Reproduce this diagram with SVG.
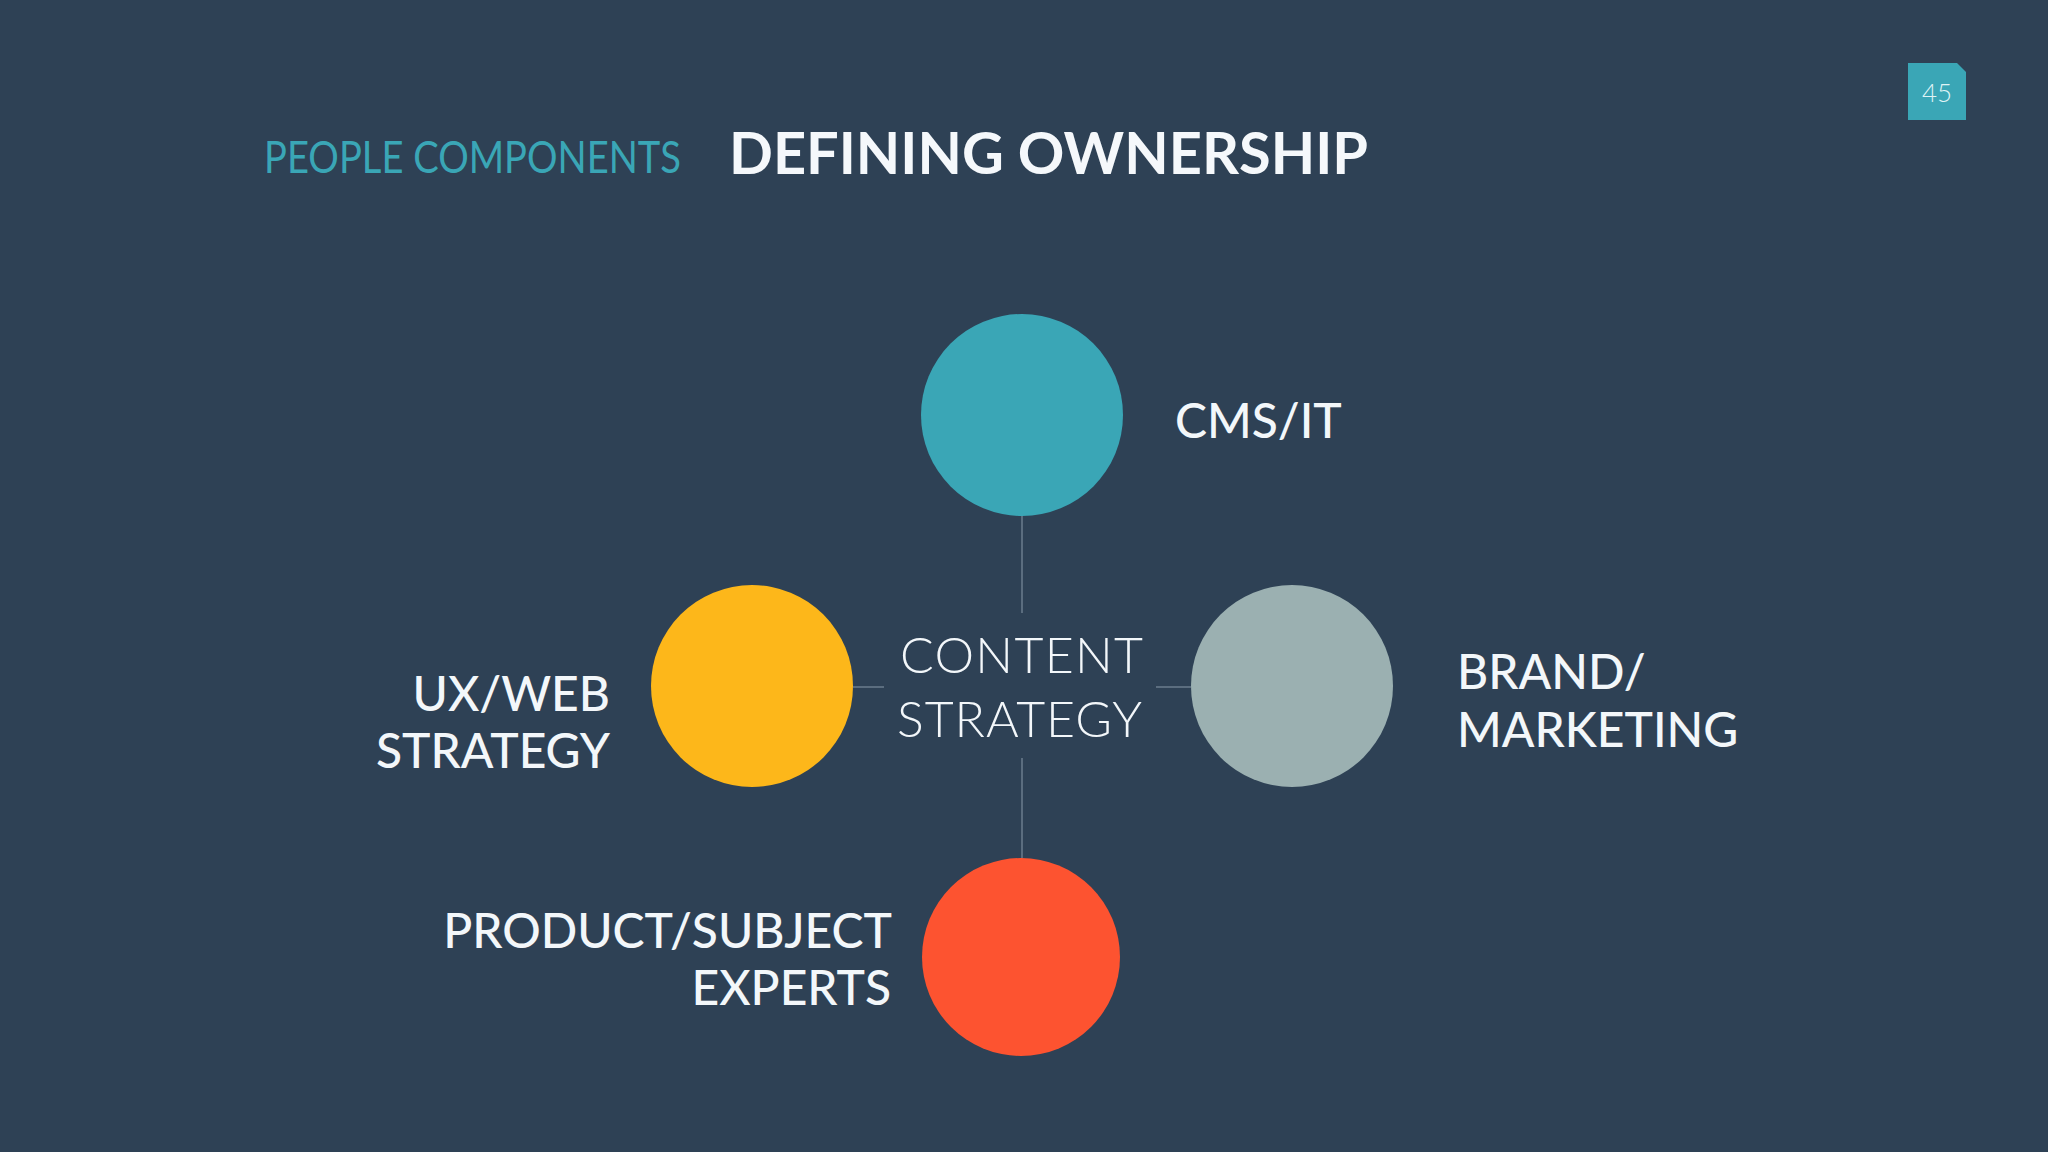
<svg xmlns="http://www.w3.org/2000/svg" width="2048" height="1152" viewBox="0 0 2048 1152">
<style>
.lbl{font-family:Lato,"Liberation Sans",sans-serif;font-size:48px;fill:#f3f7fa;font-weight:500}
.center{font-family:Lato,"Liberation Sans",sans-serif;font-size:50px;fill:#f3f7fa;font-weight:300}
.conn{stroke:#6b7d8e;stroke-width:1.5;fill:none}
</style>
<rect width="2048" height="1152" fill="#2e4155"/>
<g id="page-number">
<path d="M1908 63 H1957 L1966 72 V120 H1908 Z" fill="#3aa6b6"/>
<text x="1937" y="102" text-anchor="middle" style="font-family:Lato,'Liberation Sans',sans-serif;font-size:26px;font-weight:300;fill:#dff3f5">45</text>
</g>
<g id="title">
<text x="264" y="173" textLength="417" lengthAdjust="spacingAndGlyphs" style="font-family:Lato,'Liberation Sans',sans-serif;font-size:44px;fill:#3aa6b6">PEOPLE COMPONENTS</text>
<text x="729" y="174" textLength="639" lengthAdjust="spacingAndGlyphs" style="font-family:Lato,'Liberation Sans',sans-serif;font-size:58px;font-weight:700;fill:#f5f8fb">DEFINING OWNERSHIP</text>
</g>
<g id="connectors">
<line class="conn" x1="1022" y1="516" x2="1022" y2="613"/>
<line class="conn" x1="1022" y1="758" x2="1022" y2="858"/>
<line class="conn" x1="853" y1="687" x2="884" y2="687"/>
<line class="conn" x1="1156" y1="687" x2="1191" y2="687"/>
</g>
<g id="content-strategy">
<text class="center" x="900" y="673" textLength="243" lengthAdjust="spacing">CONTENT</text>
<text class="center" x="897" y="737" textLength="245" lengthAdjust="spacing">STRATEGY</text>
</g>
<g id="cms-it">
<circle cx="1022" cy="415" r="101" fill="#3aa6b6"/>
<text class="lbl" x="1175" y="438">CMS/IT</text>
</g>
<g id="ux-web">
<circle cx="752" cy="686" r="101" fill="#fdb71a"/>
<text class="lbl" x="610" y="711" text-anchor="end">UX/WEB</text>
<text class="lbl" x="610" y="768" text-anchor="end">STRATEGY</text>
</g>
<g id="brand-marketing">
<circle cx="1292" cy="686" r="101" fill="#9bb0b1"/>
<text class="lbl" x="1457" y="689">BRAND/</text>
<text class="lbl" x="1457" y="747">MARKETING</text>
</g>
<g id="product-experts">
<circle cx="1021" cy="957" r="99" fill="#fd5330"/>
<text class="lbl" x="892" y="948" text-anchor="end">PRODUCT/SUBJECT</text>
<text class="lbl" x="891" y="1005" text-anchor="end">EXPERTS</text>
</g>
</svg>
